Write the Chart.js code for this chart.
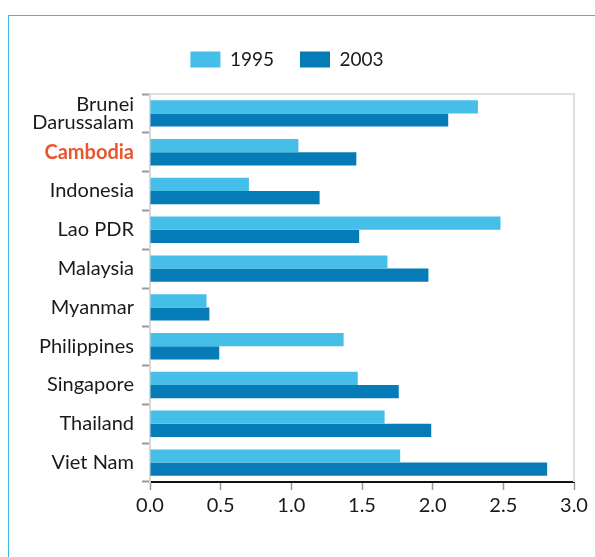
<!DOCTYPE html>
<html>
<head>
<meta charset="utf-8">
<script src="https://cdn.jsdelivr.net/npm/chart.js@4.4.1/dist/chart.umd.min.js"></script>
<style>
  html, body { margin: 0; padding: 0; background: #fff; }
  #wrap { position: relative; width: 595px; height: 557px; overflow: hidden; }
  #frame { position: absolute; left: 8px; top: 15px; width: 600px; height: 600px;
           border-top: 1.5px solid #3cb7e2; border-left: 1.5px solid #3cb7e2; box-sizing: border-box; }
  canvas { position: absolute; left: 0; top: 0; }
</style>
</head>
<body>
<div id="wrap">
  <div id="frame"></div>
  <canvas id="c" width="595" height="557"></canvas>
</div>
<script>
const categories = [["Brunei", "Darussalam"], "Cambodia", "Indonesia", "Lao PDR", "Malaysia", "Myanmar", "Philippines", "Singapore", "Thailand", "Viet Nam"];
const values1995 = [2.32, 1.05, 0.70, 2.48, 1.68, 0.40, 1.37, 1.47, 1.66, 1.77];
const values2003 = [2.11, 1.46, 1.20, 1.48, 1.97, 0.42, 0.49, 1.76, 1.99, 2.81];
const xTicks = [0, 0.5, 1.0, 1.5, 2.0, 2.5, 3.0];
const highlight = "Cambodia";

const FONT = "Lato, 'Open Sans', sans-serif";

const frameBorder = {
  id: 'frameBorder',
  afterDraw(chart) {
    const a = chart.chartArea, ctx = chart.ctx;
    ctx.save();
    ctx.strokeStyle = '#dedede';
    ctx.lineWidth = 2;
    ctx.beginPath();
    ctx.moveTo(a.left, a.top);
    ctx.lineTo(a.right, a.top);
    ctx.lineTo(a.right, a.bottom);
    ctx.stroke();
    ctx.restore();
  }
};

new Chart(document.getElementById('c'), {
  type: 'bar',
  data: {
    labels: categories,
    datasets: [
      { label: '1995', data: values1995, backgroundColor: '#45bee8', categoryPercentage: 0.68, barPercentage: 1.0 },
      { label: '2003', data: values2003, backgroundColor: '#057cb8', categoryPercentage: 0.68, barPercentage: 1.0 }
    ]
  },
  options: {
    indexAxis: 'y',
    responsive: false,
    animation: false,
    layout: { padding: { top: 24, right: 21, bottom: 35, left: 0 } },
    plugins: {
      legend: {
        position: 'top',
        labels: {
          boxWidth: 30, boxHeight: 16, padding: 26,
          color: '#1a1a1a',
          font: { family: FONT, size: 19 }
        }
      },
      tooltip: { enabled: false }
    },
    scales: {
      x: {
        min: 0, max: 3,
        afterBuildTicks(scale) { scale.ticks = xTicks.map(v => ({ value: v })); },
        afterFit(scale) { scale.height = 40; },
        grid: { drawOnChartArea: false, tickLength: 8, tickColor: '#9a9a9a', tickWidth: 1.5 },
        border: { color: '#111', width: 2 },
        ticks: {
          color: '#1a1a1a', font: { family: FONT, size: 20 }, padding: 4,
          callback: v => Number(v).toFixed(1)
        }
      },
      x2: {
        position: 'top',
        display: true,
        afterFit(scale) { scale.height = 15; },
        grid: { display: false },
        border: { display: false },
        ticks: { display: false }
      },
      y: {
        afterFit(scale) { scale.width = 150; },
        grid: { drawOnChartArea: false, offset: true, tickLength: 8, tickColor: '#9a9a9a', tickWidth: 2 },
        border: { color: '#d8d8d8', width: 2 },
        ticks: {
          padding: 8,
          color: ctx => (categories[ctx.index] === highlight ? '#e8552f' : '#1a1a1a'),
          font: ctx => ({ family: FONT, size: 20, weight: categories[ctx.index] === highlight ? 'bold' : 'normal', lineHeight: 0.88 })
        }
      }
    }
  },
  plugins: [frameBorder]
});
</script>
</body>
</html>
